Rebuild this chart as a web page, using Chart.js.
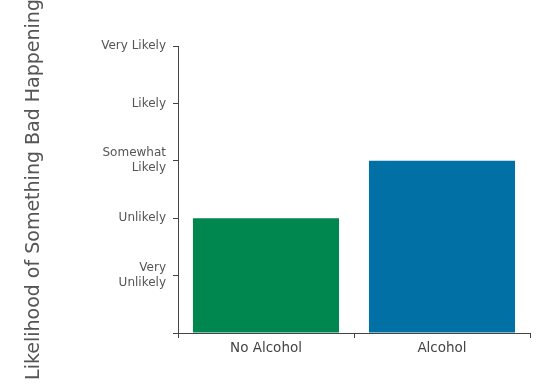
<!DOCTYPE html>
<html>
<head>
<meta charset="utf-8">
<script src="https://cdn.jsdelivr.net/npm/chart.js@4"></script>
<style>
  html, body { margin: 0; padding: 0; background: #fff; }
  #wrap { width: 544px; height: 387px; position: relative; }
</style>
</head>
<body>
<div id="wrap"><canvas id="risk-chart"></canvas></div>
<script>
// Categorias e valores (escala 0-5)
const categories = ['No Alcohol', 'Alcohol'];
const likelihood = [2, 3];
const barColors = ['rgb(0, 135, 80)', 'rgb(0, 112, 165)'];

// Rótulos do eixo y
const levelLabels = ['', ['Very', 'Unlikely'], 'Unlikely', ['Somewhat', 'Likely'], 'Likely', 'Very Likely'];

const riskData = {
  labels: categories,
  datasets: [{
    label: 'Likelihood',
    data: likelihood,
    backgroundColor: barColors,
    borderWidth: 0,
    categoryPercentage: 0.83,
    barPercentage: 1
  }]
};

const riskConfig = {
  type: 'bar',
  data: riskData,
  options: {
    responsive: true,
    maintainAspectRatio: false,
    animation: false,
    layout: { padding: { top: 46, right: 14, left: 23, bottom: 0 } },
    plugins: {
      legend: { display: false },
      tooltip: { enabled: false }
    },
    scales: {
      x: {
        afterFit: (scale) => { scale.height = 54; },
        border: { color: '#444', width: 1 },
        grid: { offset: true, drawOnChartArea: false, tickLength: 5, color: '#444' },
        ticks: { color: '#444', font: { family: 'DejaVu Sans', size: 13.5 }, padding: 2 }
      },
      y: {
        min: 0,
        max: 5,
        afterFit: (scale) => { scale.width = 155; },
        border: { color: '#444', width: 1 },
        grid: { drawOnChartArea: false, tickLength: 5, color: '#444' },
        ticks: {
          stepSize: 1,
          color: '#555',
          padding: 7,
          font: { family: 'DejaVu Sans', size: 12, lineHeight: 1.25 },
          callback: (v) => levelLabels[v]
        },
        title: {
          display: true,
          text: 'Likelihood of Something Bad Happening',
          color: '#555',
          font: { family: 'DejaVu Sans', size: 19 },
          padding: { top: 0, bottom: 0 }
        }
      }
    }
  }
};

const riskChart = new Chart(
  document.getElementById('risk-chart'),
  riskConfig
);
</script>
</body>
</html>
